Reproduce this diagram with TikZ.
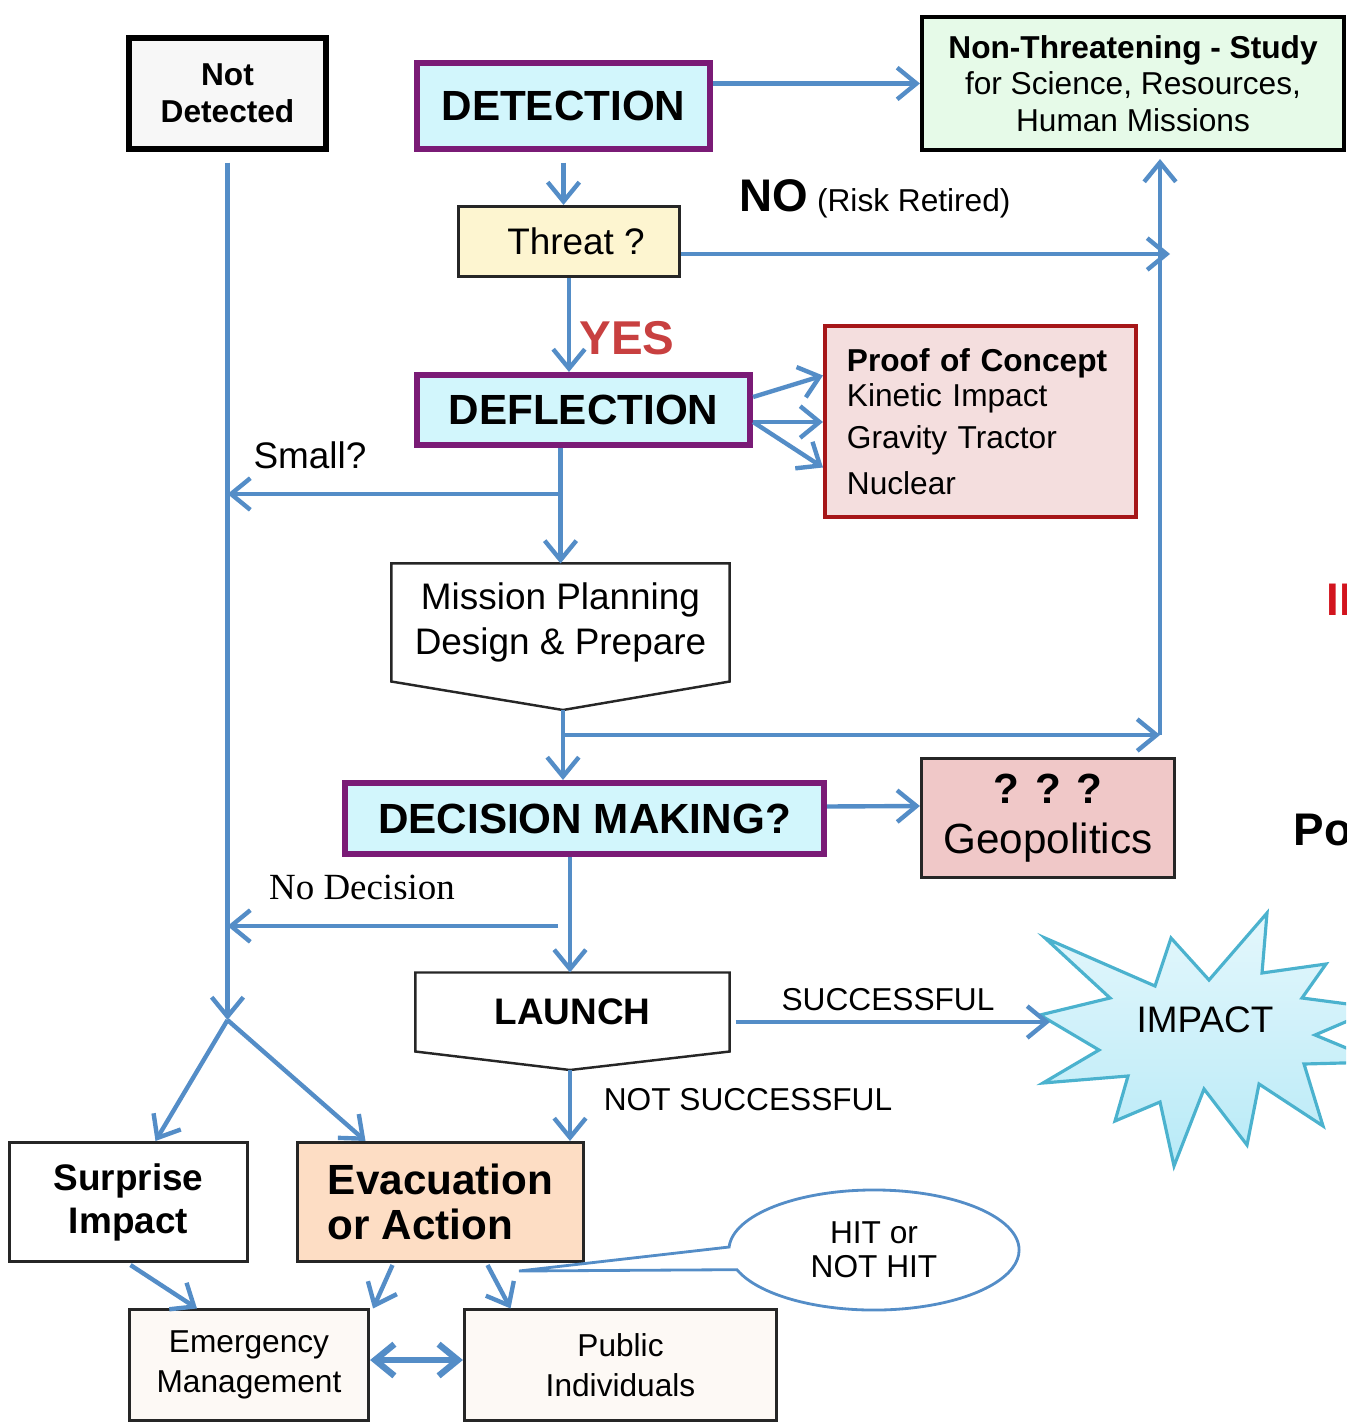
\documentclass[tikz,border=0pt]{standalone}
\usepackage{fontspec}
\setmainfont{Liberation Sans}
\newfontfamily\timesfont{Liberation Serif}
\usepackage{tikz}
\usetikzlibrary{positioning,arrows.meta,calc,shapes.callouts}

\definecolor{flowblue}{RGB}{84,141,199}
\definecolor{stagepurple}{RGB}{122,27,118}
\definecolor{stagecyan}{RGB}{210,246,252}
\definecolor{studygreen}{RGB}{230,250,232}
\definecolor{threatyellow}{RGB}{253,245,208}
\definecolor{proofred}{RGB}{166,22,24}
\definecolor{proofpink}{RGB}{244,222,222}
\definecolor{geopink}{RGB}{240,200,200}
\definecolor{evacpeach}{RGB}{253,221,196}
\definecolor{groupcream}{RGB}{253,249,245}
\definecolor{yesred}{RGB}{200,64,64}
\definecolor{alertred}{RGB}{210,20,30}
\definecolor{impactline}{RGB}{75,178,206}
\definecolor{impacttop}{RGB}{228,247,252}
\definecolor{impactbottom}{RGB}{184,234,247}

\tikzset{
    stagebox/.style = {
        draw=stagepurple,
        shape=rectangle,
        line width=1.7pt,
        fill=stagecyan,
        font=\fontsize{12}{14}\selectfont\bfseries
    },
    plainbox/.style = {
        draw=black!85,
        shape=rectangle,
        line width=0.85pt,
        align=center
    },
    shapeline/.style = {
        draw=black!85,
        line width=0.7pt
    },
    flowline/.style = {
        draw=flowblue,
        line width=1.25pt
    },
    flowtext/.style = {
        inner sep=0pt,
        align=center
    },
    >={Straight Barb[length=5.5pt,width=9pt]},
}

\begin{document}
\begin{tikzpicture}[x=0.01cm,y=-0.01cm]
            \useasboundingbox (0,0) rectangle (1346,1422);
            \clip (0,0) rectangle (1346,1422);

            % boxes
            \node[plainbox, line width=1.7pt, draw=black, fill=black!3, minimum width=1.97cm, minimum height=1.11cm, font=\fontsize{9}{10.5}\selectfont\bfseries] (notdet) at (227.5,93.5) {Not\\Detected};
            \node[stagebox, minimum width=2.93cm, minimum height=0.86cm] (detect) at (563.5,106) {DETECTION};
            \node[plainbox, line width=1.1pt, draw=black, fill=studygreen, minimum width=4.22cm, minimum height=1.33cm, font=\fontsize{9}{10.3}\selectfont] (study) at (1133,83.5) {\textbf{Non-Threatening - Study}\\for Science, Resources,\\Human Missions};
            \node[plainbox, fill=threatyellow, minimum width=2.21cm, minimum height=0.70cm, font=\fontsize{10.5}{12}\selectfont] (threat) at (569,241.5) {\hspace*{4pt}Threat ?};
            \node[stagebox, minimum width=3.33cm, minimum height=0.70cm] (deflect) at (583.5,410) {DEFLECTION};
            \node[plainbox, draw=proofred, line width=1.1pt, fill=proofpink, minimum width=3.11cm, minimum height=1.91cm, inner xsep=0.22cm, text width=2.67cm, align=left, font=\fontsize{9}{10}\selectfont] (proof) at (980.5,421.5) {\textbf{Proof of Concept}\\Kinetic Impact\\[2pt]Gravity Tractor\\[3pt]Nuclear};

            \node[plainbox, draw=none, minimum width=3.35cm, minimum height=1.15cm, font=\fontsize{10.5}{13}\selectfont] (mission) at (560.5,622.5) {Mission Planning\\Design \& Prepare};
            \coordinate (missiontip) at (563,710);
            \draw[shapeline] (mission.north west) -- (mission.north east) -- (mission.south east) -- (missiontip) -- (mission.south west) -- cycle;

            \node[stagebox, minimum width=4.79cm, minimum height=0.71cm] (decide) at (584.5,818.5) {DECISION MAKING?};
            \node[plainbox, fill=geopink, minimum width=2.53cm, minimum height=1.19cm, font=\fontsize{12}{14.2}\selectfont] (geo) at (1048,818) {\textbf{? ? ?}\\Geopolitics};

            \node[plainbox, draw=none, minimum width=3.11cm, minimum height=0.76cm, font=\fontsize{10.5}{12}\selectfont\bfseries] (launch) at (572.5,1012) {LAUNCH};
            \coordinate (launchtip) at (570,1070);
            \draw[shapeline] (launch.north west) -- (launch.north east) -- (launch.south east) -- (launchtip) -- (launch.south west) -- cycle;

            \draw[impactline, line width=0.9pt, top color=impacttop, bottom color=impactbottom]
                (1045,938) -- (1155,986) -- (1171,938) -- (1209,980) -- (1267,913) -- (1262,973)
                -- (1326,964) -- (1302,998) -- (1378,1008) -- (1315,1035) -- (1380,1062) -- (1304,1064)
                -- (1323,1126) -- (1259,1084) -- (1247,1145) -- (1204,1089) -- (1174,1166) -- (1160,1102)
                -- (1115,1121) -- (1128,1076) -- (1043,1083) -- (1099,1050) -- (1040,1015) -- (1110,998) -- cycle;
            \node[flowtext, font=\fontsize{10.5}{12}\selectfont] (impact) at (1205,1020) {IMPACT};

            \node[plainbox, fill=white, minimum width=2.38cm, minimum height=1.19cm, font=\fontsize{10.5}{12.2}\selectfont\bfseries] (surprise) at (128.5,1202) {Surprise\\Impact};
            \node[plainbox, fill=evacpeach, minimum width=2.86cm, minimum height=1.19cm, align=left, font=\fontsize{12}{12.8}\selectfont\bfseries] (evac) at (440.5,1202) {Evacuation\\or Action};
            \node[plainbox, fill=groupcream, minimum width=2.39cm, minimum height=1.10cm, font=\fontsize{9}{11.4}\selectfont] (emerg) at (249,1365) {Emergency\\Management};
            \node[plainbox, fill=groupcream, minimum width=3.12cm, minimum height=1.10cm, font=\fontsize{9}{11.4}\selectfont] (public) at (620.5,1365) {Public\\Individuals};
            \node[ellipse callout, draw=flowblue, line width=0.8pt, fill=white, minimum width=2.9cm, minimum height=1.2cm, callout absolute pointer={(519,1271)}, callout pointer arc=22, align=center, font=\fontsize{9}{9.7}\selectfont] (hit) at (874,1250) {HIT or\\NOT HIT};

            % labels
            \node[flowtext, anchor=base west, font=\fontsize{9}{11}\selectfont] (no) at (739,212) {{\fontsize{13}{15}\selectfont\bfseries NO} (Risk Retired)};
            \node[flowtext, text=yesred, font=\fontsize{13.5}{15}\selectfont\bfseries] (yes) at (627,338) {YES};
            \node[flowtext, font=\fontsize{10.5}{12}\selectfont] (small) at (310,455) {Small?};
            \node[flowtext, font=\timesfont\fontsize{10.5}{12}\selectfont] (nodec) at (362,887) {No Decision};
            \node[flowtext, font=\fontsize{9}{11}\selectfont] (succ) at (888,1000) {SUCCESSFUL};
            \node[flowtext, font=\fontsize{9}{11}\selectfont] (notsucc) at (748,1100) {NOT SUCCESSFUL};
            \node[flowtext, anchor=west, text=alertred, font=\fontsize{13}{15}\selectfont\bfseries] (alert) at (1326,600) {IM};
            \node[flowtext, anchor=west, font=\fontsize{13}{15}\selectfont\bfseries] (po) at (1293,830) {Po};

            % connectors
            \coordinate (split) at (227.5,1020);
            \coordinate (riser) at (1160,735);
            \coordinate (noend) at (1170,254);
            \coordinate (smallfork) at (560.5,494);
            \coordinate (nodecfork) at (558,926);
            \coordinate (impacttip) at (1050,1022);

            \path[flowline, ->, shorten <=3pt] (notdet.south) -- (split);
            \path[flowline, ->] (detect.east |- study.west) -- (study.west);
            \path[flowline, ->, shorten <=3pt] (detect.south) -- (detect.south |- threat.north);
            \path[flowline, ->] (threat.east |- noend) -- (noend);
            \path[flowline, ->, shorten >=2pt] (riser) -- (riser |- study.south);
            \path[flowline, ->] (threat.south) -- (threat.south |- deflect.north);

            \path[flowline, ->] ($(deflect.east)+(0,-13)$) -- ($(proof.west)+(0,-46)$);
            \path[flowline, ->] ($(deflect.east)+(0,12)$) -- ($(proof.west)+(0,0.5)$);
            \path[flowline, ->] ($(deflect.east)+(0,12)$) -- ($(proof.west)+(0,46)$);

            \path[flowline, ->] (mission.north |- deflect.south) -- (mission.north);
            \path[flowline, ->] (smallfork) -- (smallfork -| split);
            \path[flowline, ->] (missiontip) -- (missiontip |- decide.north);
            \path[flowline, ->] (missiontip |- riser) -- (riser);

            \path[flowline, ->] ($(decide.east)+(0,-12)$) -- ($(geo.west)+(0,-12)$);
            \path[flowline, ->] (launchtip |- decide.south) -- (launchtip |- launch.north);
            \path[flowline, ->] (nodecfork) -- (nodecfork -| split);
            \path[flowline, ->] ($(launch.east)+(6,10)$) -- (impacttip);
            \path[flowline, ->] (launchtip) -- (launchtip |- evac.north);

            \path[flowline, ->] (split) -- ($(surprise.north)+(27,0)$);
            \path[flowline, ->] (split) -- ($(evac.north)+(-75,0)$);
            \path[flowline, ->] ($(surprise.south)+(2,2)$) -- ($(emerg.north)+(-52,0)$);
            \path[flowline, ->] ($(evac.south)+(-48,2)$) -- ($(emerg.north east)+(3,0)$);
            \path[flowline, ->] ($(evac.south)+(47,2)$) -- ($(public.north)+(-110,0)$);
            \path[flowline, <->, line width=1.8pt] ($(emerg.east)+(0,-5)$) -- ($(public.west)+(0,-5)$);
        \end{tikzpicture}
\end{document}
